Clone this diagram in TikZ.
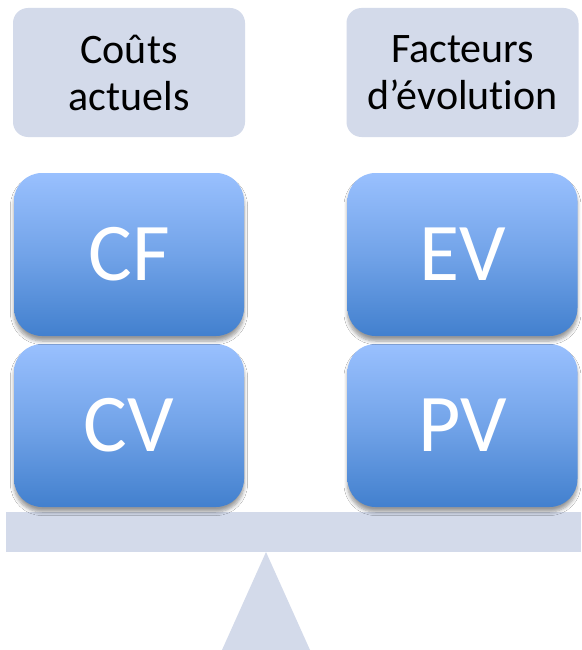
\documentclass[tikz,border=0pt]{standalone}
\usepackage{fontspec}
\setmainfont{Carlito}[Ligatures={NoCommon}]
\usetikzlibrary{shadows.blur}
\definecolor{paleblue}{RGB}{211,218,234}
\definecolor{topblue}{RGB}{153,192,254}
\definecolor{botblue}{RGB}{66,128,206}
\tikzset{
  headbox/.style={rectangle, rounded corners=15pt, fill=paleblue, minimum width=232pt, minimum height=129pt, align=center, font=\fontsize{42}{47}\selectfont, text=black, inner sep=0pt},
  bluebox/.style={rectangle, rounded corners=28pt, top color=topblue, bottom color=botblue, middle color={topblue!55!botblue}, minimum width=230pt, minimum height=163pt, text=white, font=\fontsize{82}{90}\selectfont, inner sep=0pt, blur shadow={shadow xshift=0pt, shadow yshift=-5pt, shadow blur steps=6, shadow blur radius=3.5pt, shadow opacity=40}},
  support/.style={fill=paleblue, draw=none}
}
\begin{document}
\begin{tikzpicture}[x=1pt,y=-1pt]
\useasboundingbox (0,0) rectangle (581,650);
\fill[white] (0,0) rectangle (581,650);
% beam and fulcrum
\path[support] (266,552) -- (222,650) -- (310,650) -- cycle;
\path[support] (6,512) rectangle (581,552);
% header boxes
\node[headbox] (couts) at (129,72.5) {Coûts\\actuels};
\node[headbox] (facteurs) at (462.5,72.5) {Facteurs\\d’évolut\kern0pt ion};
% blue boxes
\node[bluebox] (cv) at (129,425.5) {CV};
\node[bluebox] (pv) at (462.5,425.5) {PV};
\node[bluebox] (cf) at (129,254.5) {CF};
\node[bluebox] (ev) at (462.5,254.5) {EV};
\end{tikzpicture}
\end{document}
